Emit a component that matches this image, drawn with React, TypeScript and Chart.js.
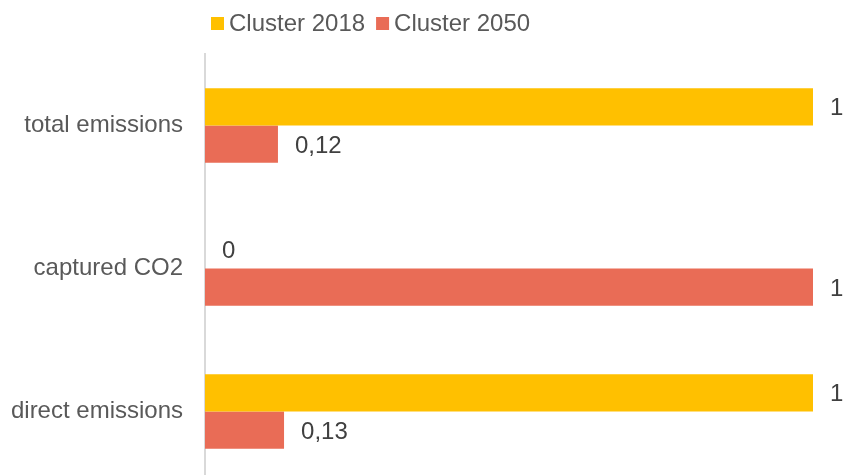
import React, { useEffect, useRef } from "react";
import { Chart, registerables } from "chart.js";

Chart.register(...registerables);

const categories = ["total emissions", "captured CO2", "direct emissions"];
const seriesNames = ["Cluster 2018", "Cluster 2050"];
const cluster2018 = [1, 0, 1];
const cluster2050 = [0.12, 1, 0.13];
const colors = ["#FFC000", "#E96C56"];

const FONT = "'Liberation Sans', Arial, sans-serif";

const dataLabelPlugin = {
  id: "dataLabels",
  afterDatasetsDraw(chart: any) {
    const ctx = chart.ctx;
    ctx.save();
    ctx.font = `24px ${FONT}`;
    ctx.fillStyle = "#404040";
    ctx.textAlign = "left";
    ctx.textBaseline = "alphabetic";
    chart.data.datasets.forEach((ds: any, di: number) => {
      const meta = chart.getDatasetMeta(di);
      meta.data.forEach((el: any, i: number) => {
        const v = ds.data[i];
        const txt = String(v).replace(".", ",");
        ctx.fillText(txt, el.x + 17, el.y + 8.5);
      });
    });
    ctx.restore();
  },
};

const legendPlugin = {
  id: "customLegend",
  afterDraw(chart: any) {
    const ctx = chart.ctx;
    ctx.save();
    ctx.font = `24px ${FONT}`;
    ctx.textBaseline = "alphabetic";
    ctx.textAlign = "left";
    let x = 211;
    const baseline = 31;
    chart.data.datasets.forEach((ds: any) => {
      ctx.fillStyle = ds.backgroundColor;
      ctx.fillRect(x, 17, 13, 13);
      x += 18;
      ctx.fillStyle = "#595959";
      ctx.fillText(ds.label, x, baseline);
      x += ctx.measureText(ds.label).width + 11;
    });
    ctx.restore();
  },
};

export default function App() {
  const ref = useRef<HTMLCanvasElement>(null);
  useEffect(() => {
    if (!ref.current) return;
    const chart = new Chart(ref.current, {
      type: "bar",
      data: {
        labels: categories,
        datasets: [
          {
            label: seriesNames[0],
            data: cluster2018,
            backgroundColor: colors[0],
            categoryPercentage: 0.52,
            barPercentage: 1,
          },
          {
            label: seriesNames[1],
            data: cluster2050,
            backgroundColor: colors[1],
            categoryPercentage: 0.52,
            barPercentage: 1,
          },
        ],
      },
      options: {
        indexAxis: "y",
        responsive: false,
        maintainAspectRatio: false,
        animation: false,
        layout: { padding: { top: 54, right: 30, left: 0, bottom: 0 } },
        plugins: {
          legend: { display: false },
          tooltip: { enabled: false },
        },
        scales: {
          x: { display: false, min: 0, max: 1 },
          y: {
            afterFit: (s: any) => {
              s.width = 205;
              s.paddingTop = 0;
              s.paddingBottom = 0;
            },
            grid: { display: false, drawTicks: false },
            border: { display: true, color: "#d9d9d9", width: 2 },
            ticks: {
              padding: 22,
              color: "#595959",
              font: { size: 24, family: FONT },
            },
          },
        },
      },
      plugins: [dataLabelPlugin, legendPlugin],
    });
    return () => chart.destroy();
  }, []);
  return (
    <div
      style={{
        position: "fixed",
        left: 0,
        top: 0,
        width: 843,
        height: 475,
        overflow: "hidden",
        background: "#fff",
      }}
    >
      <canvas
        ref={ref}
        width={843}
        height={483}
        style={{ display: "block", width: 843, height: 483 }}
      />
    </div>
  );
}
